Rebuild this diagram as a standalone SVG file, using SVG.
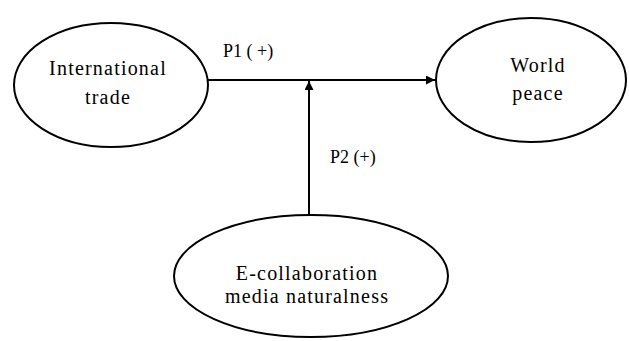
<svg xmlns="http://www.w3.org/2000/svg" width="629" height="341" viewBox="0 0 629 341">
<style>
.n{fill:#fff;stroke:#000;stroke-width:2}
.t{font-family:"Liberation Serif","Times New Roman",serif;font-size:20px;letter-spacing:1.2px;fill:#000;text-anchor:middle}
.l{font-family:"Liberation Serif","Times New Roman",serif;font-size:18px;fill:#000}
.c{stroke:#000;stroke-width:2;fill:none}
</style>
<defs>
<marker id="ah" viewBox="0 0 10 10" refX="10" refY="5" markerWidth="12" markerHeight="9" markerUnits="userSpaceOnUse" orient="auto">
<path d="M0,0 L10,5 L0,10 Z" fill="#000"/>
</marker>
</defs>
<rect width="629" height="341" fill="#fff"/>
<g id="connectors">
<line class="c" x1="208" y1="80" x2="435" y2="80" marker-end="url(#ah)"/>
<line class="c" x1="309" y1="215" x2="309" y2="81" marker-end="url(#ah)"/>
<text class="l" x="223" y="57">P1 ( +)</text>
<text class="l" x="330" y="163">P2 (+)</text>
</g>
<g id="international-trade">
<ellipse class="n" cx="111" cy="85" rx="97" ry="62"/>
<text class="t" x="108" y="75">International</text>
<text class="t" x="108" y="104">trade</text>
</g>
<g id="world-peace">
<ellipse class="n" cx="531" cy="80" rx="95" ry="62"/>
<text class="t" x="538" y="72">World</text>
<text class="t" x="538" y="100">peace</text>
</g>
<g id="e-collaboration">
<ellipse class="n" cx="311" cy="276" rx="137" ry="61"/>
<text class="t" x="307" y="280">E-collaboration</text>
<text class="t" x="307" y="303">media naturalness</text>
</g>
</svg>
